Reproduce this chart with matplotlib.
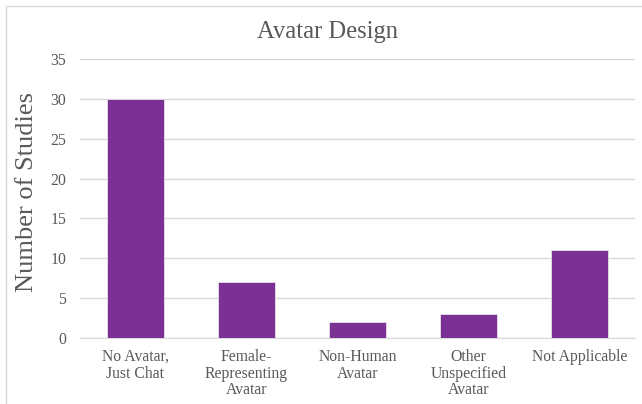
import numpy as np
import matplotlib.pyplot as plt
from matplotlib.patches import Rectangle

# Datos del gráfico
categories = ['No Avatar,\nJust Chat', 'Female-\nRepresenting\nAvatar', 'Non-Human\nAvatar',
              'Other\nUnspecified\nAvatar', 'Not Applicable']
studies = [30, 7, 2, 3, 11]
y_ticks = [0, 5, 10, 15, 20, 25, 30, 35]

plt.rcParams['font.family'] = ['Liberation Serif', 'DejaVu Serif']
text_color = '#595959'
W, H = 642, 404

fig = plt.figure(figsize=(W / 100, H / 100), dpi=100)
ax = fig.add_axes([80 / W, 1 - 338 / H, 555 / W, 279 / H])

x = np.arange(len(categories))
ax.bar(x, studies, width=0.52, color='#7B3094', edgecolor='#E6E0EA', linewidth=0.6, zorder=3)

ax.set_xlim(-0.5, len(categories) - 0.5)
ax.set_ylim(0, 35)
ax.set_yticks(y_ticks)
ax.set_xticks(x)
ax.set_xticklabels(categories, linespacing=1.05)
ax.tick_params(axis='both', length=0, labelsize=11.3, colors=text_color)
ax.tick_params(axis='x', pad=8)
ax.tick_params(axis='y', pad=10)
ax.grid(axis='y', color='#D9D9D9', linewidth=1, zorder=0)
for s in ['top', 'right', 'left']:
    ax.spines[s].set_visible(False)
ax.spines['bottom'].set_color('#D9D9D9')

ax.set_ylabel('Number of Studies', fontsize=19, color=text_color)
ax.yaxis.set_label_coords(-0.076, 0.525)
fig.text(328 / W, 1 - 32 / H, 'Avatar Design', ha='center', va='center', fontsize=17.7, color=text_color)

# Borde del área del gráfico
fig.patches.append(Rectangle((6 / W, -0.1), 1.2, 1 - 6 / H + 0.1, transform=fig.transFigure,
                             fill=False, edgecolor='#D9D9D9', linewidth=1))

plt.savefig('out.png', dpi=100)
